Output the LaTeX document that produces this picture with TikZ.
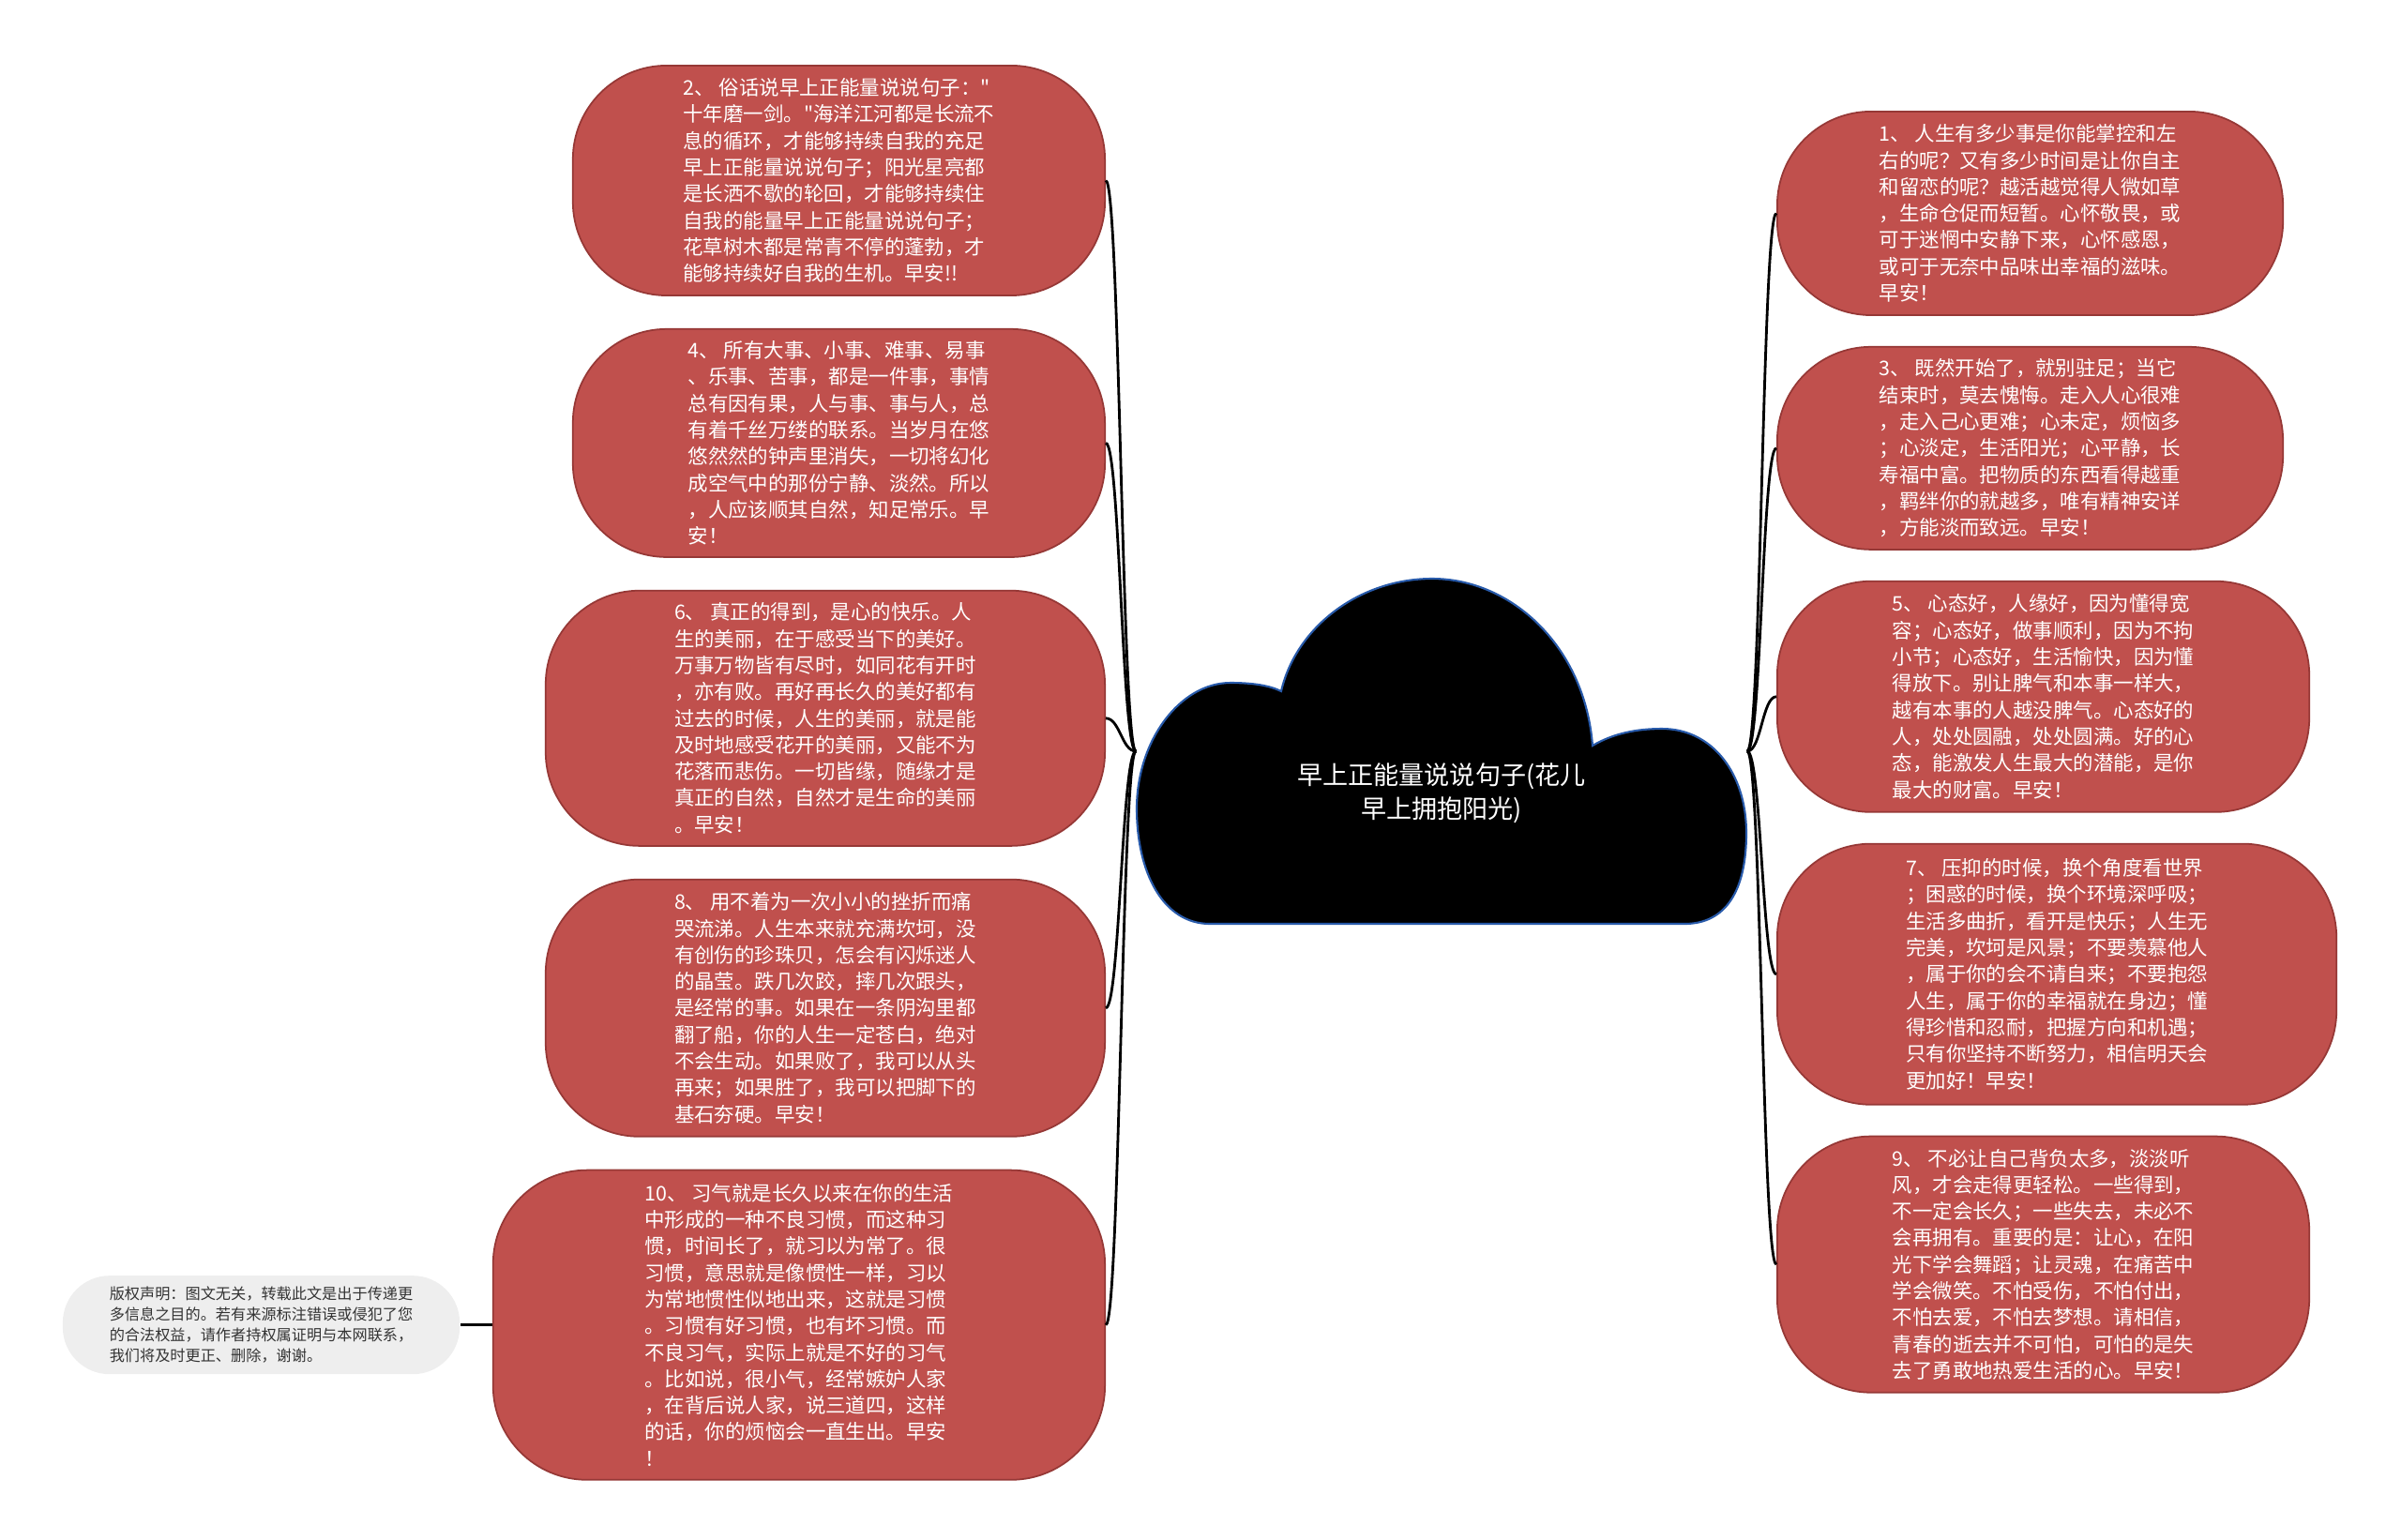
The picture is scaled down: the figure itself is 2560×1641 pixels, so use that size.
\documentclass[tikz,border=0pt]{standalone}
\usepackage{fontspec}
\setmainfont{Noto Sans CJK SC}[Ligatures=TeXOff]
\usetikzlibrary{positioning}
\definecolor{bubblered}{RGB}{192,80,77}
\definecolor{bubbleedge}{RGB}{150,56,54}
\definecolor{notegray}{RGB}{238,238,238}
\definecolor{notetext}{RGB}{51,51,51}
\definecolor{cloudedge}{RGB}{40,90,170}

\begin{document}
\begin{tikzpicture}[
    x=0.01cm, y=0.01cm,
    node distance=0.32cm,
    bubble/.style={draw=bubbleedge, fill=bubblered, line width=0.5pt, rounded corners=1cm, text=white, align=left, inner sep=0pt, font=\fontsize{6.1pt}{8.05pt}\selectfont},
    note/.style={fill=notegray, rounded corners=0.5cm, text=notetext, align=left, inner sep=0pt, font=\fontsize{4.6pt}{6.3pt}\selectfont},
    cloudtxt/.style={text=white, align=center, inner sep=0pt, font=\fontsize{7.7pt}{10.2pt}\selectfont},
    link/.style={line width=0.8pt, black},
]
\useasboundingbox (0,0) rectangle (2560,-1641);

% Central cloud
\fill[black, draw=cloudedge, line width=0.6pt] (1290,-985)
  .. controls (1240,-985) and (1212,-930) .. (1212,-862)
  .. controls (1212,-790) and (1258,-728) .. (1312,-728)
  .. controls (1336,-728) and (1354,-731) .. (1366,-737)
  .. controls (1382,-668) and (1450,-617) .. (1527,-617)
  .. controls (1612,-617) and (1690,-690) .. (1698,-795)
  .. controls (1720,-782) and (1745,-777) .. (1772,-777)
  .. controls (1826,-777) and (1862,-825) .. (1862,-888)
  .. controls (1862,-950) and (1840,-985) .. (1796,-985)
  -- cycle;
\node[cloudtxt, minimum width=6.5cm] (cloud) at (1537,-846) {早上正能量说说句子(花儿\\早上拥抱阳光)};
\coordinate (lroot) at ([yshift=0.45cm]cloud.west);
\coordinate (rroot) at ([yshift=0.45cm]cloud.east);

% Left branches
\node[bubble, minimum width=5.67cm, minimum height=2.45cm, anchor=north east] (n2) at (1179,-69) {2、 俗话说早上正能量说说句子："\\十年磨一剑。"海洋江河都是长流不\\息的循环，才能够持续自我的充足\\早上正能量说说句子；阳光星亮都\\是长洒不歇的轮回，才能够持续住\\自我的能量早上正能量说说句子；\\花草树木都是常青不停的蓬勃，才\\能够持续好自我的生机。早安!!};
\node[bubble, minimum width=5.67cm, minimum height=2.43cm, below=0.34cm of n2.south east, anchor=north east] (n4) {4、 所有大事、小事、难事、易事\\、乐事、苦事，都是一件事，事情\\总有因有果，人与事、事与人，总\\有着千丝万缕的联系。当岁月在悠\\悠然然的钟声里消失，一切将幻化\\成空气中的那份宁静、淡然。所以\\，人应该顺其自然，知足常乐。早\\安！};
\node[bubble, minimum width=5.96cm, minimum height=2.72cm, below=0.34cm of n4.south east, anchor=north east] (n6) {6、 真正的得到，是心的快乐。人\\生的美丽，在于感受当下的美好。\\万事万物皆有尽时，如同花有开时\\，亦有败。再好再长久的美好都有\\过去的时候，人生的美丽，就是能\\及时地感受花开的美丽，又能不为\\花落而悲伤。一切皆缘，随缘才是\\真正的自然，自然才是生命的美丽\\。早安！};
\node[bubble, minimum width=5.96cm, minimum height=2.74cm, below=0.34cm of n6.south east, anchor=north east] (n8) {8、 用不着为一次小小的挫折而痛\\哭流涕。人生本来就充满坎坷，没\\有创伤的珍珠贝，怎会有闪烁迷人\\的晶莹。跌几次跤，摔几次跟头，\\是经常的事。如果在一条阴沟里都\\翻了船，你的人生一定苍白，绝对\\不会生动。如果败了，我可以从头\\再来；如果胜了，我可以把脚下的\\基石夯硬。早安！};
\node[bubble, minimum width=6.52cm, minimum height=3.30cm, below=0.34cm of n8.south east, anchor=north east] (n10) {10、 习气就是长久以来在你的生活\\中形成的一种不良习惯，而这种习\\惯，时间长了，就习以为常了。很\\习惯，意思就是像惯性一样，习以\\为常地惯性似地出来，这就是习惯\\。习惯有好习惯，也有坏习惯。而\\不良习气，实际上就是不好的习气\\。比如说，很小气，经常嫉妒人家\\，在背后说人家，说三道四，这样\\的话，你的烦恼会一直生出。早安\\！};

% Copyright note
\node[note, minimum width=4.23cm, minimum height=1.05cm, left=0.34cm of n10] (copy) {版权声明：图文无关，转载此文是出于传递更\\多信息之目的。若有来源标注错误或侵犯了您\\的合法权益，请作者持权属证明与本网联系，\\我们将及时更正、删除，谢谢。};

% Right branches
\node[bubble, minimum width=5.39cm, minimum height=2.17cm, anchor=north west] (n1) at (1894,-118) {1、 人生有多少事是你能掌控和左\\右的呢？又有多少时间是让你自主\\和留恋的呢？越活越觉得人微如草\\，生命仓促而短暂。心怀敬畏，或\\可于迷惘中安静下来，心怀感恩，\\或可于无奈中品味出幸福的滋味。\\早安！};
\node[bubble, minimum width=5.39cm, minimum height=2.16cm, below=of n1.south west, anchor=north west] (n3) {3、 既然开始了，就别驻足；当它\\结束时，莫去愧悔。走入人心很难\\，走入己心更难；心未定，烦恼多\\；心淡定，生活阳光；心平静，长\\寿福中富。把物质的东西看得越重\\，羁绊你的就越多，唯有精神安详\\，方能淡而致远。早安！};
\node[bubble, minimum width=5.67cm, minimum height=2.46cm, below=of n3.south west, anchor=north west] (n5) {5、 心态好，人缘好，因为懂得宽\\容；心态好，做事顺利，因为不拘\\小节；心态好，生活愉快，因为懂\\得放下。别让脾气和本事一样大，\\越有本事的人越没脾气。心态好的\\人，处处圆融，处处圆满。好的心\\态，能激发人生最大的潜能，是你\\最大的财富。早安！};
\node[bubble, minimum width=5.96cm, minimum height=2.78cm, below=of n5.south west, anchor=north west] (n7) {7、 压抑的时候，换个角度看世界\\；困惑的时候，换个环境深呼吸；\\生活多曲折，看开是快乐；人生无\\完美，坎坷是风景；不要羡慕他人\\，属于你的会不请自来；不要抱怨\\人生，属于你的幸福就在身边；懂\\得珍惜和忍耐，把握方向和机遇；\\只有你坚持不断努力，相信明天会\\更加好！早安！};
\node[bubble, minimum width=5.67cm, minimum height=2.73cm, below=of n7.south west, anchor=north west] (n9) {9、 不必让自己背负太多，淡淡听\\风，才会走得更轻松。一些得到，\\不一定会长久；一些失去，未必不\\会再拥有。重要的是：让心，在阳\\光下学会舞蹈；让灵魂，在痛苦中\\学会微笑。不怕受伤，不怕付出，\\不怕去爱，不怕去梦想。请相信，\\青春的逝去并不可怕，可怕的是失\\去了勇敢地热爱生活的心。早安！};

% Links
\draw[link] (lroot) .. controls +(-0.15cm,0) and +(0.15cm,0) .. (n2.east);
\draw[link] (lroot) .. controls +(-0.15cm,0) and +(0.15cm,0) .. (n4.east);
\draw[link] (lroot) .. controls +(-0.15cm,0) and +(0.15cm,0) .. (n6.east);
\draw[link] (lroot) .. controls +(-0.15cm,0) and +(0.15cm,0) .. (n8.east);
\draw[link] (lroot) .. controls +(-0.15cm,0) and +(0.15cm,0) .. (n10.east);
\draw[link] (rroot) .. controls +(0.15cm,0) and +(-0.15cm,0) .. (n1.west);
\draw[link] (rroot) .. controls +(0.15cm,0) and +(-0.15cm,0) .. (n3.west);
\draw[link] (rroot) .. controls +(0.15cm,0) and +(-0.15cm,0) .. (n5.west);
\draw[link] (rroot) .. controls +(0.15cm,0) and +(-0.15cm,0) .. (n7.west);
\draw[link] (rroot) .. controls +(0.15cm,0) and +(-0.15cm,0) .. (n9.west);
\draw[link] (n10.west) -- (copy.east);
\end{tikzpicture}
\end{document}
